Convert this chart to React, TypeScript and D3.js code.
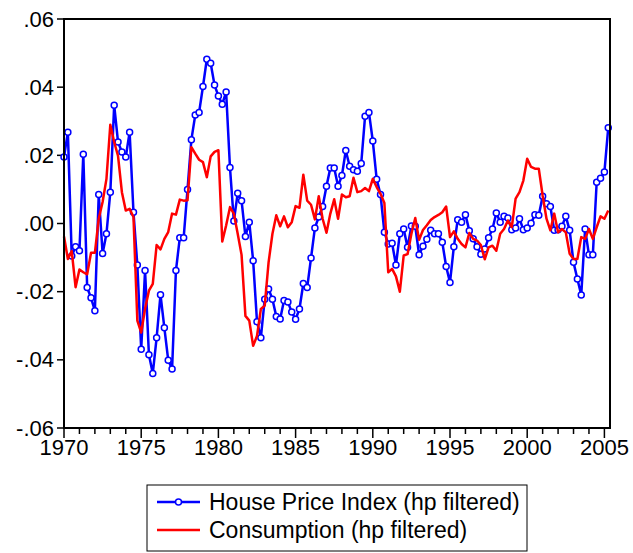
import * as React from 'react';
import * as d3 from 'd3';

// quarterly observations, 1970Q1 .. 2005Q2
const startYear = 1970;
const yearLabels = ['1970', '1975', '1980', '1985', '1990', '1995', '2000', '2005'];
const yTickValues = [0.06, 0.04, 0.02, 0, -0.02, -0.04, -0.06];
const seriesNames = ['House Price Index (hp filtered)', 'Consumption (hp filtered)'];

const housePrice = [
  0.0195, 0.0268, -0.0095, -0.0068, -0.008, 0.0203, -0.0188, -0.0218, -0.0256, 0.0085,
  -0.0088, -0.003, 0.0092, 0.0347, 0.0239, 0.021, 0.0195, 0.0268, 0.0033, -0.0122,
  -0.0369, -0.0138, -0.0385, -0.044, -0.0335, -0.0209, -0.0306, -0.0401, -0.0427, -0.0138,
  -0.0042, -0.0042, 0.010, 0.0246, 0.0318, 0.0326, 0.0402, 0.0482, 0.047, 0.0406,
  0.0374, 0.035, 0.0386, 0.0164, 0.0007, 0.0089, 0.0067, -0.0038, 0.0004, -0.0109,
  -0.0288, -0.0335, -0.0222, -0.0192, -0.0222, -0.0273, -0.028, -0.0226, -0.023, -0.026,
  -0.0281, -0.0251, -0.0176, -0.0188, -0.0101, -0.0013, 0.0019, 0.005, 0.0109, 0.0163,
  0.0163, 0.0109, 0.0141, 0.0214, 0.0168, 0.0158, 0.0153, 0.0176, 0.0315, 0.0326,
  0.0242, 0.013, 0.0085, -0.0026, -0.006, -0.0058, -0.0122, -0.003, -0.0016, -0.007,
  -0.0007, -0.0008, -0.0092, -0.0067, -0.0046, -0.002, -0.003, -0.003, -0.0055, -0.0126,
  -0.0173, -0.0068, 0.0011, 0.0004, 0.0026, -0.0021, -0.0045, -0.0068, -0.009, -0.0075,
  -0.0042, -0.0016, 0.0031, 0.0004, 0.0021, 0.0016, -0.0018, -0.0013, 0.0014, -0.0018,
  -0.0013, 0.0001, 0.0026, 0.0024, 0.008, 0.0058, 0.005, -0.002, -0.0018, -0.0008,
  0.0021, -0.002, -0.0114, -0.0163, -0.021, -0.0016, -0.0092, -0.0092, 0.0121, 0.0133,
  0.0151, 0.0281
];

const consumption = [
  -0.0038, -0.0104, -0.0081, -0.0187, -0.0135, -0.0143, -0.0149, -0.0086, -0.0086, 0.0014,
  0.0063, 0.0131, 0.029, 0.0239, 0.0198, 0.0092, 0.0038, 0.0043, 0.0019, -0.0285,
  -0.032, -0.025, -0.0197, -0.0177, -0.0063, -0.0076, -0.0045, -0.0025, 0.0029, 0.0026,
  0.007, 0.0067, 0.0068, 0.0224, 0.0205, 0.0187, 0.018, 0.0136, 0.0197, 0.021,
  0.0215, -0.0053, -0.0006, 0.0048, 0.0029, -0.003, -0.0092, -0.0271, -0.0285, -0.0359,
  -0.033, -0.0251, -0.0241, -0.0114, -0.003, 0.0024, -0.0008, 0.0021, -0.0011, 0.0004,
  0.0051, 0.0046, 0.0143, 0.0067, 0.0055, 0.0012, 0.008, 0.0014, -0.0027, 0.0029,
  0.0071, 0.0014, 0.0085, 0.0077, 0.008, 0.0134, 0.0092, 0.0095, 0.0104, 0.0095,
  0.0131, 0.0107, 0.0087, 0.006, -0.0143, -0.0133, -0.0155, -0.02, -0.0094, -0.009,
  -0.003, 0.0016, -0.0048, -0.0019, -0.0005, 0.001, 0.0019, 0.0025, 0.0033, 0.005,
  -0.004, -0.0023, -0.0045, -0.006, -0.007, -0.0028, -0.0045, -0.005, -0.0063, -0.0105,
  -0.007, -0.0065, -0.008, -0.003, -0.0016, 0.0009, -0.0011, 0.0073, 0.0092, 0.0126,
  0.019, 0.0166, 0.0161, 0.0161, 0.0082, 0.0014, -0.002, 0.0029, -0.0026, -0.0016,
  -0.0026, -0.0089, -0.0104, -0.0104, -0.004, -0.0045, -0.0016, -0.0045, -0.0011, 0.0021,
  0.0014, 0.0038
];

const FONT = '"Liberation Sans", Arial, sans-serif';
const FS = 22;

export default function App() {
  const ref = React.useRef<SVGSVGElement>(null);

  React.useEffect(() => {
    const width = 633, height = 553;
    const left = 64, right = 610, top = 19, bottom = 428;
    const n = housePrice.length;

    const svg = d3.select(ref.current);
    svg.selectAll('*').remove();

    // x in quarters since 1970Q1
    const x = d3.scaleLinear().domain([0, n - 1]).range([left, left + (n - 1) * 3.86]);
    const y = d3.scaleLinear().domain([-0.06, 0.06]).range([bottom, top]);

    const fmt = (v: number) => {
      if (v === 0) return '.00';
      const s = Math.abs(v).toFixed(2).replace(/^0/, '');
      return (v < 0 ? '-' : '') + s;
    };

    // y axis ticks + labels
    const ya = svg.append('g');
    yTickValues.forEach((v) => {
      ya.append('line')
        .attr('x1', left - 7).attr('x2', left)
        .attr('y1', y(v)).attr('y2', y(v))
        .attr('stroke', '#000').attr('stroke-width', 1.5);
      ya.append('text')
        .attr('x', left - 10).attr('y', y(v) + 7.5)
        .attr('text-anchor', 'end')
        .attr('font-family', FONT).attr('font-size', FS)
        .text(fmt(v));
    });

    // x axis: major every 5 years, minor every year
    const xa = svg.append('g');
    d3.range(0, 36).forEach((k) => {
      const xi = x(k * 4);
      const major = k % 5 === 0;
      xa.append('line')
        .attr('x1', xi).attr('x2', xi)
        .attr('y1', bottom).attr('y2', bottom + (major ? 10 : 6))
        .attr('stroke', '#000').attr('stroke-width', 1.5);
    });
    yearLabels.forEach((lab) => {
      const q = (+lab - startYear) * 4;
      xa.append('text')
        .attr('x', x(q)).attr('y', bottom + 27)
        .attr('text-anchor', 'middle')
        .attr('font-family', FONT).attr('font-size', FS)
        .text(lab);
    });

    const idx = d3.range(n);
    const line = (vals: number[]) => d3.line<number>()
      .x((i) => x(i))
      .y((i) => y(vals[i]))(idx);

    svg.append('path')
      .attr('d', line(housePrice))
      .attr('fill', 'none').attr('stroke', '#0000ff').attr('stroke-width', 2.5)
      .attr('stroke-linejoin', 'round');

    svg.append('g').selectAll('circle')
      .data(idx)
      .enter()
        .append('circle')
        .attr('cx', (i) => x(i))
        .attr('cy', (i) => y(housePrice[i]))
        .attr('r', 3)
        .attr('fill', '#fff').attr('stroke', '#0000ff').attr('stroke-width', 1.5);

    svg.append('path')
      .attr('d', line(consumption))
      .attr('fill', 'none').attr('stroke', '#ff0000').attr('stroke-width', 2.5)
      .attr('stroke-linejoin', 'round');

    // frame
    svg.append('rect')
      .attr('x', left).attr('y', top)
      .attr('width', right - left).attr('height', bottom - top)
      .attr('fill', 'none').attr('stroke', '#000').attr('stroke-width', 2);

    // legend
    const lg = svg.append('g');
    lg.append('rect')
      .attr('x', 147).attr('y', 485).attr('width', 380).attr('height', 66)
      .attr('fill', '#fff').attr('stroke', '#000').attr('stroke-width', 1);
    const rows = [
      { name: seriesNames[0], color: '#0000ff', marker: true, yy: 502 },
      { name: seriesNames[1], color: '#ff0000', marker: false, yy: 530 },
    ];
    rows.forEach((r) => {
      lg.append('line')
        .attr('x1', 157).attr('x2', 200).attr('y1', r.yy).attr('y2', r.yy)
        .attr('stroke', r.color).attr('stroke-width', 2.5);
      if (r.marker) {
        lg.append('circle')
          .attr('cx', 178.5).attr('cy', r.yy).attr('r', 3)
          .attr('fill', '#fff').attr('stroke', r.color).attr('stroke-width', 1.5);
      }
      lg.append('text')
        .attr('x', 209).attr('y', r.yy + 8)
        .attr('font-family', FONT).attr('font-size', 23)
        .text(r.name);
    });

    svg.attr('width', width).attr('height', height);
  }, []);

  return (
    <svg ref={ref} style={{ position: 'absolute', left: 0, top: 0, background: '#fff' }} />
  );
}
